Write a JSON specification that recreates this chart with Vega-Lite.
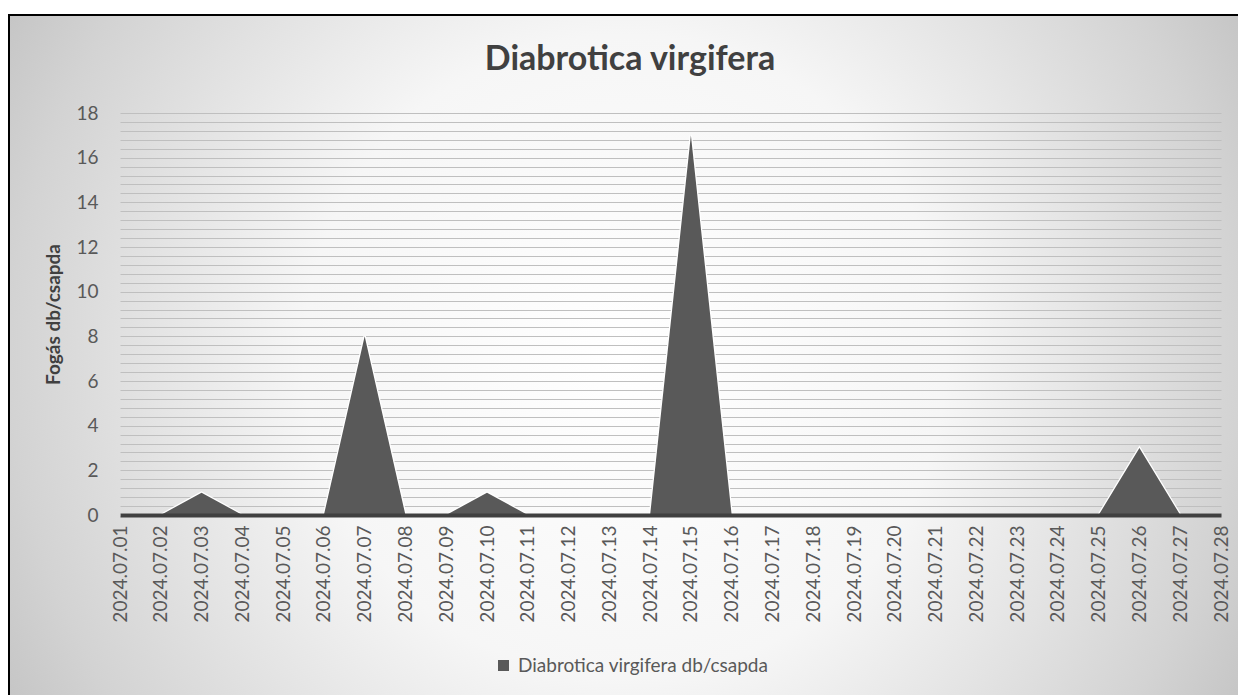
{
  "$schema": "https://vega.github.io/schema/vega-lite/v6.json",
  "width": 1232,
  "height": 683,
  "autosize": {"type": "none"},
  "padding": {"left": 9, "top": 15, "right": -3, "bottom": -3},
  "background": "#ffffff",
  "view": {
    "fill": {
      "gradient": "radial",
      "x1": 0.5, "y1": 0.5, "r1": 0,
      "x2": 0.5, "y2": 0.5, "r2": 0.58,
      "stops": [
        {"offset": 0, "color": "#ffffff"},
        {"offset": 0.45, "color": "#f6f6f6"},
        {"offset": 0.86, "color": "#d3d3d3"},
        {"offset": 1, "color": "#c4c4c4"}
      ]
    },
    "stroke": "#000000",
    "strokeWidth": 2
  },
  "title": {
    "text": "Diabrotica virgifera",
    "font": "Lato",
    "fontSize": 34,
    "fontWeight": "bold",
    "color": "#404040",
    "anchor": "middle",
    "frame": "group",
    "baseline": "alphabetic",
    "offset": -55,
    "dy": 34,
    "dx": 5
  },
  "data": {
    "values": [
      {"date": "2024.07.01", "value": 0, "series": "Diabrotica virgifera db/csapda"},
      {"date": "2024.07.02", "value": 0, "series": "Diabrotica virgifera db/csapda"},
      {"date": "2024.07.03", "value": 1, "series": "Diabrotica virgifera db/csapda"},
      {"date": "2024.07.04", "value": 0, "series": "Diabrotica virgifera db/csapda"},
      {"date": "2024.07.05", "value": 0, "series": "Diabrotica virgifera db/csapda"},
      {"date": "2024.07.06", "value": 0, "series": "Diabrotica virgifera db/csapda"},
      {"date": "2024.07.07", "value": 8, "series": "Diabrotica virgifera db/csapda"},
      {"date": "2024.07.08", "value": 0, "series": "Diabrotica virgifera db/csapda"},
      {"date": "2024.07.09", "value": 0, "series": "Diabrotica virgifera db/csapda"},
      {"date": "2024.07.10", "value": 1, "series": "Diabrotica virgifera db/csapda"},
      {"date": "2024.07.11", "value": 0, "series": "Diabrotica virgifera db/csapda"},
      {"date": "2024.07.12", "value": 0, "series": "Diabrotica virgifera db/csapda"},
      {"date": "2024.07.13", "value": 0, "series": "Diabrotica virgifera db/csapda"},
      {"date": "2024.07.14", "value": 0, "series": "Diabrotica virgifera db/csapda"},
      {"date": "2024.07.15", "value": 17, "series": "Diabrotica virgifera db/csapda"},
      {"date": "2024.07.16", "value": 0, "series": "Diabrotica virgifera db/csapda"},
      {"date": "2024.07.17", "value": 0, "series": "Diabrotica virgifera db/csapda"},
      {"date": "2024.07.18", "value": 0, "series": "Diabrotica virgifera db/csapda"},
      {"date": "2024.07.19", "value": 0, "series": "Diabrotica virgifera db/csapda"},
      {"date": "2024.07.20", "value": 0, "series": "Diabrotica virgifera db/csapda"},
      {"date": "2024.07.21", "value": 0, "series": "Diabrotica virgifera db/csapda"},
      {"date": "2024.07.22", "value": 0, "series": "Diabrotica virgifera db/csapda"},
      {"date": "2024.07.23", "value": 0, "series": "Diabrotica virgifera db/csapda"},
      {"date": "2024.07.24", "value": 0, "series": "Diabrotica virgifera db/csapda"},
      {"date": "2024.07.25", "value": 0, "series": "Diabrotica virgifera db/csapda"},
      {"date": "2024.07.26", "value": 3, "series": "Diabrotica virgifera db/csapda"},
      {"date": "2024.07.27", "value": 0, "series": "Diabrotica virgifera db/csapda"},
      {"date": "2024.07.28", "value": 0, "series": "Diabrotica virgifera db/csapda"}
    ]
  },
  "encoding": {
    "x": {
      "field": "date",
      "type": "ordinal",
      "sort": null,
      "scale": {"type": "point", "padding": 0, "range": [111, 1212]},
      "axis": {
        "title": null,
        "labelAngle": 270,
        "labelFont": "Lato",
        "labelFontSize": 19,
        "labelColor": "#595959",
        "labelPadding": 10,
        "labelOverlap": false,
        "ticks": false,
        "tickSize": 0,
        "domain": true,
        "domainColor": "#404040",
        "domainWidth": 4,
        "grid": false,
        "offset": -183,
        "zindex": 1
      }
    },
    "y": {
      "field": "value",
      "type": "quantitative",
      "stack": null,
      "scale": {"domain": [0, 18], "range": [500, 98], "nice": false, "zero": true},
      "axis": {
        "title": "Fogás db/csapda",
        "titleFont": "Lato",
        "titleFontSize": 19,
        "titleFontWeight": "bold",
        "titleColor": "#404040",
        "titlePadding": 12,
        "values": [0, 0.4, 0.8, 1.2, 1.6, 2, 2.4, 2.8, 3.2, 3.6, 4, 4.4, 4.8, 5.2, 5.6, 6, 6.4, 6.8, 7.2, 7.6, 8, 8.4, 8.8, 9.2, 9.6, 10, 10.4, 10.8, 11.2, 11.6, 12, 12.4, 12.8, 13.2, 13.6, 14, 14.4, 14.8, 15.2, 15.6, 16, 16.4, 16.8, 17.2, 17.6, 18],
        "labelExpr": "datum.value % 2 === 0 ? format(datum.value, 'd') : ''",
        "labelFont": "Lato",
        "labelFontSize": 19,
        "labelColor": "#595959",
        "labelPadding": 0,
        "labelOverlap": false,
        "labelFlush": false,
        "labelBound": false,
        "ticks": false,
        "tickSize": 0,
        "domain": false,
        "grid": true,
        "gridColor": "#bfbfbf",
        "gridWidth": 1,
        "offset": -89
      }
    }
  },
  "layer": [
    {
      "mark": {"type": "line", "color": "#ffffff", "strokeWidth": 2.5},
      "encoding": {}
    },
    {
      "mark": {"type": "area", "opacity": 1},
      "encoding": {
        "color": {
          "field": "series",
          "type": "nominal",
          "scale": {"range": ["#595959"]},
          "legend": {
            "title": null,
            "orient": "none",
            "legendX": 485,
            "legendY": 641,
            "direction": "horizontal",
            "symbolType": "square",
            "symbolSize": 121,
            "symbolStrokeWidth": 0,
            "labelFont": "Lato",
            "labelFontSize": 19,
            "labelColor": "#595959",
            "labelOffset": 5,
            "labelLimit": 0,
            "padding": 0
          }
        }
      }
    }
  ],
  "config": {
    "view": {"stroke": null}
  }
}
